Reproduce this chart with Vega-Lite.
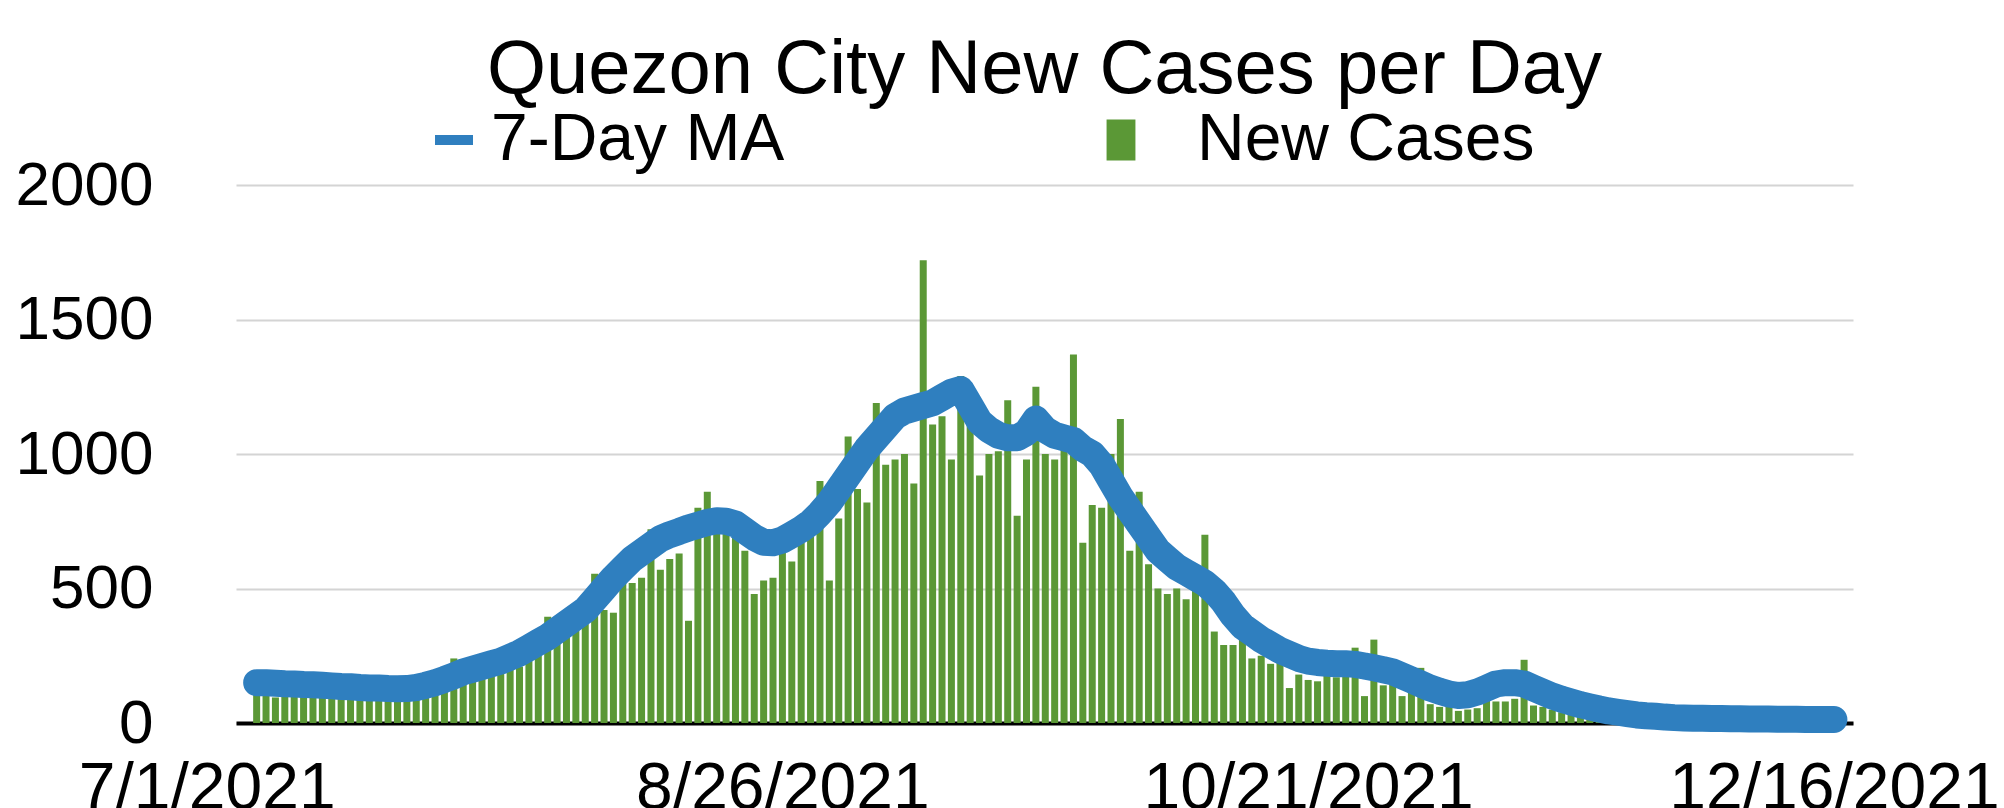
{
"$schema": "https://vega.github.io/schema/vega-lite/v6.json",
"width": 1617, "height": 538,
"autosize": "none",
"padding": {"left": 236, "top": 185, "right": 151, "bottom": 85},
"background": "white",
"config": {"view": {"stroke": null}, "font": "Liberation Sans"},
"title": {"text": "Quezon City New Cases per Day", "fontSize": 76, "fontWeight": "normal", "color": "black", "anchor": "middle", "frame": "group", "offset": -2},
"data": {"values": [
{"d":"2021/07/01","n":175,"m":150},{"d":"2021/07/02","n":110,"m":150},{"d":"2021/07/03","n":95,"m":148},{"d":"2021/07/04","n":160,"m":146},{"d":"2021/07/05","n":120,"m":145},{"d":"2021/07/06","n":105,"m":143},{"d":"2021/07/07","n":140,"m":142},{"d":"2021/07/08","n":185,"m":140},{"d":"2021/07/09","n":100,"m":138},{"d":"2021/07/10","n":90,"m":136},
{"d":"2021/07/11","n":150,"m":135},{"d":"2021/07/12","n":115,"m":132},{"d":"2021/07/13","n":95,"m":130},{"d":"2021/07/14","n":130,"m":130},{"d":"2021/07/15","n":150,"m":128},{"d":"2021/07/16","n":100,"m":127},{"d":"2021/07/17","n":120,"m":128},{"d":"2021/07/18","n":135,"m":132},{"d":"2021/07/19","n":150,"m":140},{"d":"2021/07/20","n":175,"m":150},
{"d":"2021/07/21","n":160,"m":162},{"d":"2021/07/22","n":240,"m":175},{"d":"2021/07/23","n":185,"m":190},{"d":"2021/07/24","n":165,"m":200},{"d":"2021/07/25","n":215,"m":210},{"d":"2021/07/26","n":190,"m":220},{"d":"2021/07/27","n":230,"m":230},{"d":"2021/07/28","n":250,"m":245},{"d":"2021/07/29","n":210,"m":260},{"d":"2021/07/30","n":295,"m":280},
{"d":"2021/07/31","n":310,"m":300},{"d":"2021/08/01","n":395,"m":320},{"d":"2021/08/02","n":330,"m":345},{"d":"2021/08/03","n":360,"m":370},{"d":"2021/08/04","n":390,"m":395},{"d":"2021/08/05","n":470,"m":420},{"d":"2021/08/06","n":555,"m":460},{"d":"2021/08/07","n":420,"m":500},{"d":"2021/08/08","n":410,"m":540},{"d":"2021/08/09","n":580,"m":575},
{"d":"2021/08/10","n":520,"m":610},{"d":"2021/08/11","n":540,"m":635},{"d":"2021/08/12","n":720,"m":660},{"d":"2021/08/13","n":570,"m":685},{"d":"2021/08/14","n":610,"m":700},{"d":"2021/08/15","n":630,"m":712},{"d":"2021/08/16","n":380,"m":725},{"d":"2021/08/17","n":800,"m":735},{"d":"2021/08/18","n":860,"m":745},{"d":"2021/08/19","n":790,"m":752},
{"d":"2021/08/20","n":750,"m":750},{"d":"2021/08/21","n":710,"m":740},{"d":"2021/08/22","n":640,"m":715},{"d":"2021/08/23","n":480,"m":690},{"d":"2021/08/24","n":530,"m":672},{"d":"2021/08/25","n":540,"m":670},{"d":"2021/08/26","n":640,"m":680},{"d":"2021/08/27","n":600,"m":700},{"d":"2021/08/28","n":670,"m":720},{"d":"2021/08/29","n":700,"m":745},
{"d":"2021/08/30","n":900,"m":780},{"d":"2021/08/31","n":530,"m":820},{"d":"2021/09/01","n":760,"m":870},{"d":"2021/09/02","n":1065,"m":920},{"d":"2021/09/03","n":870,"m":970},{"d":"2021/09/04","n":820,"m":1020},{"d":"2021/09/05","n":1190,"m":1060},{"d":"2021/09/06","n":960,"m":1100},{"d":"2021/09/07","n":980,"m":1140},{"d":"2021/09/08","n":1000,"m":1160},
{"d":"2021/09/09","n":890,"m":1170},{"d":"2021/09/10","n":1720,"m":1180},{"d":"2021/09/11","n":1110,"m":1190},{"d":"2021/09/12","n":1140,"m":1210},{"d":"2021/09/13","n":980,"m":1230},{"d":"2021/09/14","n":1290,"m":1240},{"d":"2021/09/15","n":1250,"m":1180},{"d":"2021/09/16","n":920,"m":1120},{"d":"2021/09/17","n":1000,"m":1090},{"d":"2021/09/18","n":1010,"m":1070},
{"d":"2021/09/19","n":1200,"m":1060},{"d":"2021/09/20","n":770,"m":1060},{"d":"2021/09/21","n":980,"m":1080},{"d":"2021/09/22","n":1250,"m":1130},{"d":"2021/09/23","n":1000,"m":1090},{"d":"2021/09/24","n":980,"m":1070},{"d":"2021/09/25","n":1040,"m":1060},{"d":"2021/09/26","n":1370,"m":1050},{"d":"2021/09/27","n":670,"m":1020},{"d":"2021/09/28","n":810,"m":1000},
{"d":"2021/09/29","n":800,"m":960},{"d":"2021/09/30","n":1000,"m":900},{"d":"2021/10/01","n":1130,"m":840},{"d":"2021/10/02","n":640,"m":790},{"d":"2021/10/03","n":860,"m":740},{"d":"2021/10/04","n":590,"m":690},{"d":"2021/10/05","n":500,"m":640},{"d":"2021/10/06","n":480,"m":610},{"d":"2021/10/07","n":500,"m":580},{"d":"2021/10/08","n":460,"m":560},
{"d":"2021/10/09","n":520,"m":540},{"d":"2021/10/10","n":700,"m":520},{"d":"2021/10/11","n":340,"m":490},{"d":"2021/10/12","n":290,"m":450},{"d":"2021/10/13","n":290,"m":400},{"d":"2021/10/14","n":310,"m":360},{"d":"2021/10/15","n":240,"m":335},{"d":"2021/10/16","n":250,"m":310},{"d":"2021/10/17","n":220,"m":290},{"d":"2021/10/18","n":320,"m":270},
{"d":"2021/10/19","n":130,"m":255},{"d":"2021/10/20","n":180,"m":240},{"d":"2021/10/21","n":160,"m":230},{"d":"2021/10/22","n":155,"m":225},{"d":"2021/10/23","n":210,"m":222},{"d":"2021/10/24","n":170,"m":220},{"d":"2021/10/25","n":200,"m":220},{"d":"2021/10/26","n":280,"m":218},{"d":"2021/10/27","n":100,"m":212},{"d":"2021/10/28","n":310,"m":205},
{"d":"2021/10/29","n":140,"m":198},{"d":"2021/10/30","n":150,"m":190},{"d":"2021/10/31","n":100,"m":175},{"d":"2021/11/01","n":120,"m":160},{"d":"2021/11/02","n":205,"m":145},{"d":"2021/11/03","n":70,"m":130},{"d":"2021/11/04","n":60,"m":118},{"d":"2021/11/05","n":65,"m":108},{"d":"2021/11/06","n":45,"m":102},{"d":"2021/11/07","n":50,"m":105},
{"d":"2021/11/08","n":55,"m":115},{"d":"2021/11/09","n":85,"m":130},{"d":"2021/11/10","n":80,"m":145},{"d":"2021/11/11","n":80,"m":150},{"d":"2021/11/12","n":90,"m":150},{"d":"2021/11/13","n":235,"m":145},{"d":"2021/11/14","n":65,"m":130},{"d":"2021/11/15","n":60,"m":115},{"d":"2021/11/16","n":50,"m":100},{"d":"2021/11/17","n":40,"m":88},
{"d":"2021/11/18","n":35,"m":78},{"d":"2021/11/19","n":30,"m":68},{"d":"2021/11/20","n":28,"m":60},{"d":"2021/11/21","n":25,"m":52},{"d":"2021/11/22","n":22,"m":45},{"d":"2021/11/23","n":20,"m":40},{"d":"2021/11/24","n":18,"m":35},{"d":"2021/11/25","n":15,"m":30},{"d":"2021/11/26","n":15,"m":27},{"d":"2021/11/27","n":12,"m":25},
{"d":"2021/11/28","n":12,"m":22},{"d":"2021/11/29","n":10,"m":20},{"d":"2021/11/30","n":10,"m":19},{"d":"2021/12/01","n":12,"m":18},{"d":"2021/12/02","n":9,"m":18},{"d":"2021/12/03","n":11,"m":17},{"d":"2021/12/04","n":8,"m":17},{"d":"2021/12/05","n":10,"m":16},{"d":"2021/12/06","n":9,"m":16},{"d":"2021/12/07","n":12,"m":15},
{"d":"2021/12/08","n":8,"m":15},{"d":"2021/12/09","n":10,"m":15},{"d":"2021/12/10","n":9,"m":14},{"d":"2021/12/11","n":7,"m":14},{"d":"2021/12/12","n":11,"m":14},{"d":"2021/12/13","n":8,"m":13},{"d":"2021/12/14","n":9,"m":13},{"d":"2021/12/15","n":7,"m":13},{"d":"2021/12/16","n":10,"m":13}
]},
"encoding": {
  "x": {"field": "d", "type": "temporal",
    "scale": {"domain": [{"year": 2021, "month": 6, "date": 29, "hours": 8}, {"year": 2021, "month": 12, "date": 17, "hours": 12}], "nice": false},
    "axis": {"title": null, "values": [{"year": 2021, "month": 7, "date": 1}, {"year": 2021, "month": 8, "date": 26}, {"year": 2021, "month": 10, "date": 21}, {"year": 2021, "month": 12, "date": 16}],
      "format": "%-m/%-d/%Y", "labelFontSize": 66, "labelColor": "black", "labelPadding": 33, "labelFlush": false, "labelOverlap": false, "labelBound": false, "labelLimit": 0,
      "labelOffset": {"condition": {"test": "datum.value < datetime(2021, 6, 10)", "value": -50}, "value": 0},
      "ticks": false, "grid": false, "domainColor": "black", "domainWidth": 4}
  }
},
"layer": [
  {"mark": {"type": "bar", "size": 7},
   "encoding": {
     "y": {"field": "n", "type": "quantitative",
       "scale": {"domain": [0, 2000], "nice": false},
       "axis": {"title": null, "values": [0, 500, 1000, 1500, 2000], "format": "d", "grid": true, "gridColor": "#d4d4d4", "gridWidth": 2, "domain": false, "ticks": false, "labelFontSize": 62, "labelColor": "black", "labelPadding": 83, "labelLimit": 0}},
     "fill": {"datum": "New Cases", "type": "nominal", "scale": {"range": ["#5b9836"]},
       "legend": {"orient": "none", "legendX": 852, "legendY": -78, "title": null, "symbolType": "M-0.7,-1H0.7V1H-0.7Z", "symbolSize": 1700, "symbolStrokeWidth": 0, "labelFontSize": 66, "labelColor": "black", "labelOffset": 43, "labelLimit": 0, "padding": 0}}
   }},
  {"mark": {"type": "line", "strokeWidth": 27, "strokeJoin": "round", "strokeCap": "round"},
   "encoding": {
     "y": {"field": "m", "type": "quantitative"},
     "stroke": {"datum": "7-Day MA", "type": "nominal", "scale": {"range": ["#2f7fbf"]},
       "legend": {"orient": "none", "legendX": 185, "legendY": -78, "title": null, "symbolType": "stroke", "symbolSize": 1444, "symbolStrokeWidth": 10, "labelFontSize": 66, "labelColor": "black", "labelOffset": 4, "labelLimit": 0, "padding": 0}}
   }}
]
}
